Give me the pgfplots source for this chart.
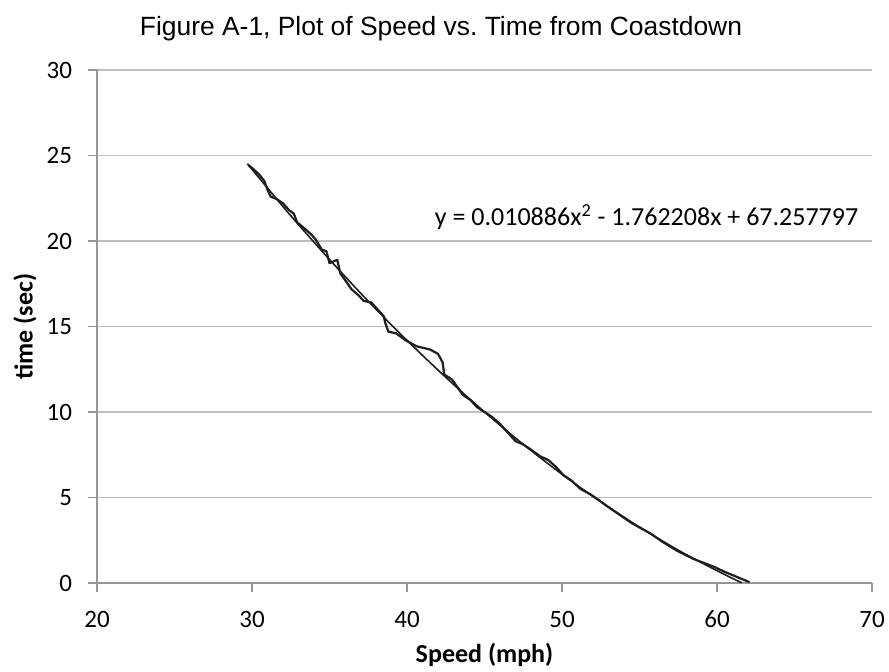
\documentclass[border=0pt]{standalone}
\usepackage{pgfplots}
\pgfplotsset{compat=1.18}
\usepackage{fontspec}
\setmainfont{Carlito}
\newfontfamily\arialfont{Liberation Sans}
\definecolor{gridcol}{RGB}{190,190,190}
\definecolor{axcol}{RGB}{150,150,150}
\definecolor{inkcol}{RGB}{30,30,30}

\begin{document}
\begin{tikzpicture}
\useasboundingbox (-48.5pt,-44pt) rectangle (396pt,291.5pt);
\begin{axis}[
  at={(0,0)}, anchor=south west,
  scale only axis,
  width=387.5pt, height=256.5pt,
  xmin=20, xmax=70, ymin=0, ymax=30,
  xtick={20,30,...,70},
  ytick={0,5,...,30},
  axis x line=bottom, axis y line=left,
  axis line style={-, draw=axcol, line width=0.6pt},
  ymajorgrids,
  grid style={gridcol, line width=0.6pt},
  tick align=outside,
  major tick length=4.5pt,
  tick style={axcol, line width=0.6pt},
  /pgf/number format/assume math mode=true,
  tick label style={font=\fontsize{12.5}{15}\selectfont, text=black},
  xticklabel style={yshift=-6pt},
  yticklabel style={xshift=-4.5pt},
  xlabel={\bfseries Speed (mph)},
  ylabel={\bfseries time (sec)},
  label style={font=\fontsize{13}{15}\selectfont},
  xlabel style={at={(axis description cs:0.5,-0.140)}, anchor=center},
  ylabel style={at={(axis description cs:-0.093,0.5)}, anchor=center},
  clip=false,
]

% measured run (jagged)
\addplot[inkcol, line width=1.1pt, line join=round] coordinates {
  (29.76,24.44) (30.1,24.2) (30.5,23.85) (30.8,23.5) (31.0,23.0)
  (31.2,22.6) (31.6,22.45) (32.0,22.2) (32.4,21.8) (32.7,21.6)
  (32.9,21.1) (33.3,20.8) (33.8,20.4) (34.1,20.1) (34.5,19.5)
  (34.8,19.4) (35.0,18.7) (35.5,18.9) (35.7,18.1) (36.1,17.6)
  (36.4,17.2) (36.9,16.8) (37.2,16.5) (37.7,16.4) (38.1,16.0)
  (38.5,15.6) (38.6,15.2) (38.8,14.7) (39.3,14.6) (39.9,14.2)
  (40.6,13.85) (41.5,13.65) (42.0,13.4) (42.3,12.9) (42.4,12.2)
  (42.9,11.9) (43.3,11.4) (43.6,11.0) (44.1,10.7) (44.5,10.3)
  (45.0,10.0) (45.5,9.7) (46.0,9.3) (46.5,8.8) (47.0,8.3)
  (47.5,8.1) (48.0,7.8) (48.6,7.4) (49.1,7.2) (49.6,6.8)
  (49.8,6.6) (50.1,6.3) (50.6,6.0) (51.2,5.5) (51.8,5.2)
  (52.3,4.9) (52.9,4.5) (53.7,4.0) (54.5,3.5) (55.7,2.9)
  (56.5,2.4) (57.4,1.9) (58.5,1.4) (59.8,0.95) (60.5,0.65)
  (61.3,0.35) (62.1,0.05)
};

% quadratic trend line
\addplot[inkcol, line width=0.8pt, smooth] coordinates {
  (29.7,24.52) (30,24.19) (32.5,21.48) (35,18.92) (37.5,16.48)
  (40,14.19) (42.5,12.03) (45,10.00) (47.5,8.11) (50,6.36)
  (52.5,4.75) (55,3.27) (57.5,1.92) (60,0.72) (61.6,0.01)
};

\node[anchor=base west, font=\fontsize{13}{15}\selectfont]
  at (axis cs:41.35,20.9)
  {y = 0.010886x\textsuperscript{2} - 1.762208x + 67.257797};

\node[anchor=base, font=\arialfont\fontsize{13.2}{15}\selectfont]
  at (axis description cs:0.4439,1.0663)
  {Figure A-1, Plot of Speed vs.\ Time from Coastdown};

\end{axis}
\end{tikzpicture}
\end{document}
